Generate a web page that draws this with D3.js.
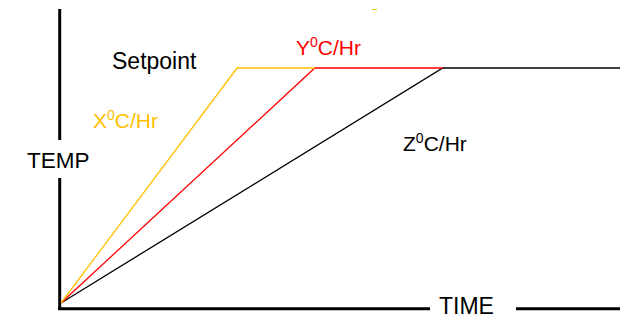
<!DOCTYPE html>
<html>
<head>
<meta charset="utf-8">
<script src="https://cdn.jsdelivr.net/npm/d3@7"></script>
<style>
  html, body { margin: 0; padding: 0; background: #fff; }
  svg text { font-family: "Liberation Sans", Arial, sans-serif; }
</style>
</head>
<body>
<svg id="chart" width="620" height="318"></svg>
<script>
// ramp profiles: time (arbitrary units) at which each ramp reaches setpoint
const rampNames = ["X", "Y", "Z"];
const rampColors = ["#FFC000", "#FF0000", "#000000"];
const rampEndTimes = [3.15, 4.54, 6.83];
const setpointTemp = 100;
const timeMax = 10;

// label text
const rateLabels = ["X", "Y", "Z"];
const setpointLabel = "Setpoint";
const xAxisLabel = "TIME";
const yAxisLabel = "TEMP";

const svg = d3.select("#chart");

// scales
const x = d3.scaleLinear().domain([0, timeMax]).range([61, 620]);
const y = d3.scaleLinear().domain([0, setpointTemp]).range([303, 68]);

// ------- axes (drawn as heavy lines with a gap for the label) -------
const axisG = svg.append("g").attr("stroke", "#000").attr("stroke-width", 3);
axisG.append("line").attr("x1", 59.7).attr("x2", 59.7).attr("y1", 9).attr("y2", 140);
axisG.append("line").attr("x1", 59.7).attr("x2", 59.7).attr("y1", 178).attr("y2", 310);
axisG.append("line").attr("x1", 58.2).attr("x2", 430).attr("y1", 308.7).attr("y2", 308.7);
axisG.append("line").attr("x1", 516).attr("x2", 620).attr("y1", 308.7).attr("y2", 308.7);

svg.append("text").attr("x", 27).attr("y", 168).attr("font-size", 22.5).text(yAxisLabel);
svg.append("text").attr("x", 439).attr("y", 314).attr("font-size", 23).text(xAxisLabel);

// ------- ramp lines -------
const line = d3.line().x(d => x(d[0])).y(d => y(d[1]));

// draw slowest first so faster ramps overlay the plateau
const order = [2, 1, 0];
order.forEach(i => {
  const end = rampEndTimes[i];
  const next = i === rampEndTimes.length - 1 ? timeMax : rampEndTimes[i + 1];
  const pts = [[0, 0], [end, setpointTemp], [next, setpointTemp]];
  svg.append("path")
    .attr("d", line(pts))
    .attr("fill", "none")
    .attr("stroke", rampColors[i])
    .attr("stroke-width", 1.3);
});

// tiny stray mark near the top
svg.append("line")
  .attr("x1", 372).attr("x2", 377).attr("y1", 9.5).attr("y2", 9.5)
  .attr("stroke", "#FFC000").attr("stroke-width", 1);

// ------- labels -------
svg.append("text").attr("x", 112).attr("y", 69).attr("font-size", 23).attr("fill", "#000").text(setpointLabel);

const labelPos = [[93, 128], [296, 55], [403, 151]];
rateLabels.forEach((name, i) => {
  const t = svg.append("text")
    .attr("x", labelPos[i][0]).attr("y", labelPos[i][1])
    .attr("font-size", 21)
    .attr("fill", rampColors[i]);
  t.append("tspan").text(name);
  t.append("tspan").attr("dy", -8).attr("font-size", 14).text("0");
  t.append("tspan").attr("dy", 8).text("C/Hr");
});
</script>
</body>
</html>
